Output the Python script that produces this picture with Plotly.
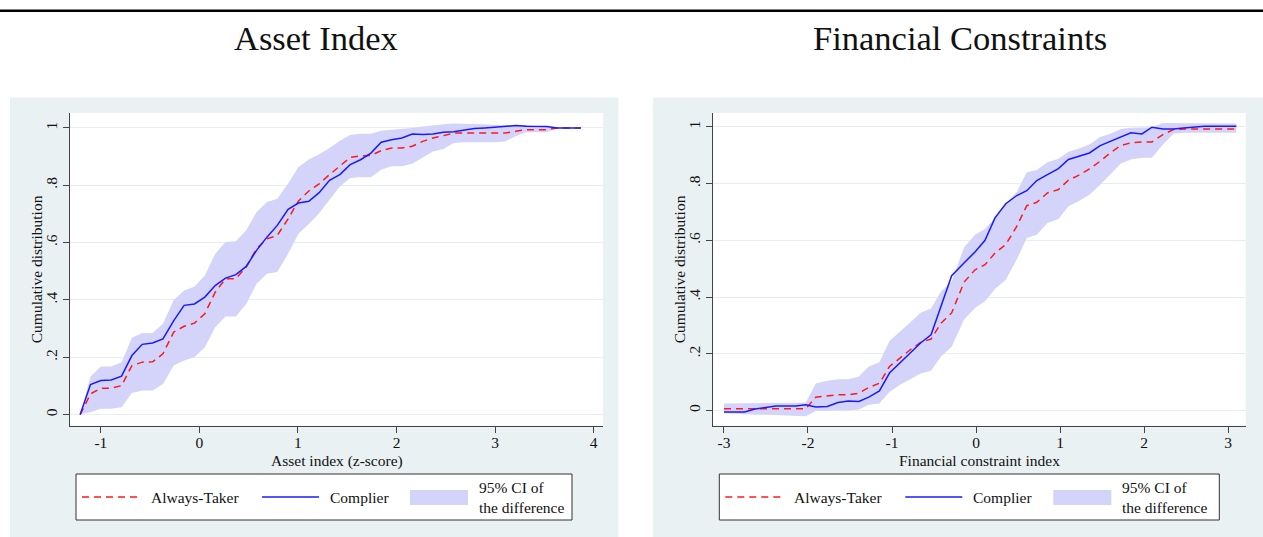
import plotly.graph_objects as go

W, H = 1263, 537

# ---------------- data ----------------
asset_x = [-1.21, -1.105, -1.0, -0.895, -0.79, -0.685, -0.58, -0.475, -0.37, -0.26,
           -0.155, -0.05, 0.055, 0.16, 0.265, 0.37, 0.475, 0.58, 0.685, 0.79,
           0.9, 1.005, 1.11, 1.215, 1.32, 1.425, 1.53, 1.635, 1.74, 1.845,
           1.95, 2.055, 2.16, 2.265, 2.37, 2.475, 2.58, 2.685, 2.79, 2.895,
           3.0, 3.105, 3.21, 3.315, 3.42, 3.525, 3.63, 3.735, 3.87]
asset_always = [0, 0.072, 0.092, 0.092, 0.101, 0.171, 0.183, 0.184, 0.212, 0.288,
                0.308, 0.319, 0.352, 0.427, 0.474, 0.474, 0.515, 0.579, 0.613, 0.625,
                0.683, 0.745, 0.78, 0.805, 0.837, 0.868, 0.897, 0.903, 0.904, 0.921,
                0.93, 0.93, 0.936, 0.953, 0.965, 0.973, 0.982, 0.982, 0.982, 0.982,
                0.982, 0.982, 0.988, 0.994, 0.994, 0.994, 1.0, 1.0, 1.0]
asset_complier = [0, 0.105, 0.119, 0.121, 0.134, 0.206, 0.245, 0.250, 0.264, 0.328,
                  0.381, 0.386, 0.41, 0.45, 0.476, 0.488, 0.517, 0.573, 0.619, 0.66,
                  0.716, 0.738, 0.744, 0.774, 0.817, 0.837, 0.872, 0.889, 0.912, 0.95,
                  0.959, 0.965, 0.979, 0.977, 0.979, 0.985, 0.987, 0.992, 0.998, 1.0,
                  1.003, 1.007, 1.008, 1.006, 1.005, 1.005, 1.0, 1.0, 1.0]
asset_ci_lo = [0, 0.008, 0.02, 0.02, 0.026, 0.075, 0.084, 0.084, 0.107, 0.171,
               0.189, 0.2, 0.235, 0.305, 0.342, 0.342, 0.386, 0.456, 0.491, 0.497,
               0.561, 0.631, 0.665, 0.702, 0.749, 0.796, 0.825, 0.828, 0.828, 0.854,
               0.866, 0.866, 0.875, 0.895, 0.918, 0.926, 0.947, 0.95, 0.95, 0.95,
               0.95, 0.953, 0.971, 0.985, 0.985, 0.985, 1.0, 1.0, 1.0]
asset_ci_hi = [0, 0.133, 0.168, 0.168, 0.183, 0.268, 0.285, 0.285, 0.317, 0.4,
               0.433, 0.447, 0.485, 0.561, 0.602, 0.605, 0.643, 0.707, 0.742, 0.753,
               0.806, 0.864, 0.89, 0.908, 0.93, 0.955, 0.975, 0.98, 0.98, 0.99,
               0.994, 0.996, 1.0, 1.005, 1.01, 1.013, 1.015, 1.015, 1.013, 1.013,
               1.01, 1.01, 1.012, 1.01, 1.007, 1.005, 1.0, 1.0, 1.0]

fin_x = [-3.0, -2.88, -2.755, -2.63, -2.5, -2.38, -2.26, -2.144, -2.026, -1.907,
         -1.77, -1.643, -1.52, -1.394, -1.276, -1.15, -1.03, -0.91, -0.783, -0.66,
         -0.535, -0.416, -0.29, -0.143, -0.012, 0.107, 0.226, 0.354, 0.485, 0.604,
         0.723, 0.85, 0.981, 1.1, 1.22, 1.35, 1.478, 1.597, 1.724, 1.843,
         1.975, 2.094, 2.225, 2.352, 2.471, 2.59, 2.718, 2.837, 2.96, 3.099]
fin_always = [0.006, 0.006, 0.006, 0.006, 0.006, 0.006, 0.006, 0.006, 0.006, 0.047,
              0.052, 0.055, 0.055, 0.061, 0.081, 0.096, 0.155, 0.185, 0.214, 0.24,
              0.252, 0.308, 0.344, 0.452, 0.496, 0.514, 0.555, 0.585, 0.649, 0.722,
              0.734, 0.767, 0.779, 0.812, 0.829, 0.852, 0.879, 0.908, 0.934, 0.944,
              0.947, 0.947, 0.973, 0.991, 0.993, 0.993, 0.993, 0.993, 0.993, 0.993]
fin_complier = [-0.005, -0.005, -0.005, 0.005, 0.012, 0.016, 0.016, 0.016, 0.02, 0.012,
                0.014, 0.028, 0.033, 0.032, 0.047, 0.069, 0.132, 0.167, 0.202, 0.238,
                0.267, 0.37, 0.475, 0.52, 0.559, 0.6, 0.679, 0.729, 0.758, 0.775,
                0.811, 0.832, 0.853, 0.885, 0.896, 0.908, 0.934, 0.949, 0.964, 0.979,
                0.975, 0.999, 0.993, 0.993, 0.996, 0.999, 1.002, 1.002, 1.002, 1.002]
fin_ci_lo = [-0.01, -0.012, -0.013, -0.015, -0.015, -0.016, -0.017, -0.018, -0.02, -0.002,
             0.0, 0.0, 0.0, 0.003, 0.02, 0.025, 0.065, 0.09, 0.11, 0.13,
             0.14, 0.19, 0.225, 0.32, 0.361, 0.385, 0.428, 0.461, 0.532, 0.608,
             0.62, 0.661, 0.675, 0.72, 0.738, 0.761, 0.796, 0.832, 0.871, 0.885,
             0.891, 0.891, 0.938, 0.976, 0.979, 0.979, 0.979, 0.979, 0.979, 0.979]
fin_ci_hi = [0.025, 0.025, 0.025, 0.025, 0.025, 0.025, 0.026, 0.027, 0.028, 0.095,
             0.105, 0.11, 0.11, 0.12, 0.155, 0.17, 0.245, 0.275, 0.31, 0.345,
             0.36, 0.42, 0.455, 0.575, 0.62, 0.64, 0.68, 0.73, 0.77, 0.84,
             0.848, 0.875, 0.888, 0.912, 0.923, 0.938, 0.964, 0.976, 0.993, 0.997,
             0.999, 0.999, 1.014, 1.014, 1.012, 1.012, 1.012, 1.012, 1.012, 1.012]

asset_xticks = [-1, 0, 1, 2, 3, 4]
fin_xticks = [-3, -2, -1, 0, 1, 2, 3]
y_ticks = [0, 0.2, 0.4, 0.6, 0.8, 1]
y_ticklabels = ["0", ".2", ".4", ".6", ".8", "1"]

panel_titles = ["Asset Index", "Financial Constraints"]
x_titles = ["Asset index (z-score)", "Financial constraint index"]
y_title = "Cumulative distribution"
legend_labels = ["Always-Taker", "Complier", "95% CI of<br>the difference"]

# ---------------- styling ----------------
FONT = "Liberation Serif"
RED = "#ff1a1a"
BLUE = "#1a1aff"
BAND = "#d4d4fb"
PANEL = "#eaf1f3"
GRID = "#e6eef0"
AXIS = "#444444"
TXT = "#111111"


def fx(p):
    return p / W


def fy(p):
    return 1 - p / H


PLOT_TOP, PLOT_BOT = 113, 425.5
panels = [
    dict(x=asset_x, at=asset_always, co=asset_complier, lo=asset_ci_lo, hi=asset_ci_hi,
         xt=asset_xticks, xr=[-1.313, 4.095], yr=[-0.038, 1.052],
         plot=(70, 603), bg=(10, 618.5), legw=496, ytitle_x=36),
    dict(x=fin_x, at=fin_always, co=fin_complier, lo=fin_ci_lo, hi=fin_ci_hi,
         xt=fin_xticks, xr=[-3.127, 3.21], yr=[-0.053, 1.049],
         plot=(713.3, 1245.7), bg=(653, 1263), legw=500, ytitle_x=679),
]

fig = go.Figure()
shapes = []
annotations = []

# top rule
shapes.append(dict(type="line", xref="paper", yref="paper", x0=0, x1=1,
                   y0=fy(10.8), y1=fy(10.8), line=dict(color="black", width=2.6)))

for i, p in enumerate(panels):
    xa = "x" if i == 0 else "x2"
    ya = "y" if i == 0 else "y2"
    fig.add_trace(go.Scatter(x=p["x"], y=p["lo"], mode="lines", line=dict(width=0, color=BAND),
                             xaxis=xa, yaxis=ya, showlegend=False, hoverinfo="skip"))
    fig.add_trace(go.Scatter(x=p["x"], y=p["hi"], mode="lines", line=dict(width=0, color=BAND),
                             fill="tonexty", fillcolor=BAND, xaxis=xa, yaxis=ya,
                             name="95% CI of the difference", showlegend=False))
    fig.add_trace(go.Scatter(x=p["x"], y=p["at"], mode="lines",
                             line=dict(color=RED, width=1.5, dash="7px,5px"),
                             xaxis=xa, yaxis=ya, name="Always-Taker", showlegend=False))
    fig.add_trace(go.Scatter(x=p["x"], y=p["co"], mode="lines",
                             line=dict(color=BLUE, width=1.5),
                             xaxis=xa, yaxis=ya, name="Complier", showlegend=False))

    L, R = p["plot"]
    # grey graph region and white plot region
    shapes.append(dict(type="rect", xref="paper", yref="paper", layer="below",
                       x0=fx(p["bg"][0]), x1=fx(p["bg"][1]), y0=0, y1=fy(97.5),
                       fillcolor=PANEL, line=dict(width=0)))
    shapes.append(dict(type="rect", xref="paper", yref="paper", layer="below",
                       x0=fx(L), x1=fx(R), y0=fy(PLOT_BOT), y1=fy(PLOT_TOP),
                       fillcolor="white", line=dict(width=0)))

    # titles
    cx = (L + R) / 2
    annotations.append(dict(text=panel_titles[i], xref="paper", yref="paper",
                            x=fx((p["bg"][0] + p["bg"][1]) / 2 + 2), y=fy(38),
                            xanchor="center", yanchor="middle", showarrow=False,
                            font=dict(family=FONT, size=34.5, color=TXT)))
    annotations.append(dict(text=x_titles[i], xref="paper", yref="paper",
                            x=fx(cx), y=fy(460.5), xanchor="center", yanchor="middle",
                            showarrow=False, font=dict(family=FONT, size=15.5, color=TXT)))
    annotations.append(dict(text=y_title, xref="paper", yref="paper",
                            x=fx(p["ytitle_x"]), y=fy((PLOT_TOP + PLOT_BOT) / 2),
                            xanchor="center", yanchor="middle", textangle=-90,
                            showarrow=False, font=dict(family=FONT, size=15.5, color=TXT)))

    # legend box
    lx0 = L + 6
    lx1 = lx0 + p["legw"]
    ly0, ly1 = 474, 520
    ymid = 497
    shapes.append(dict(type="rect", xref="paper", yref="paper",
                       x0=fx(lx0), x1=fx(lx1), y0=fy(ly1), y1=fy(ly0),
                       fillcolor="white", line=dict(color="#333333", width=1)))
    shapes.append(dict(type="line", xref="paper", yref="paper",
                       x0=fx(lx0 + 6), x1=fx(lx0 + 63), y0=fy(ymid), y1=fy(ymid),
                       line=dict(color=RED, width=1.5, dash="7px,5px")))
    shapes.append(dict(type="line", xref="paper", yref="paper",
                       x0=fx(lx0 + 186), x1=fx(lx0 + 243), y0=fy(ymid), y1=fy(ymid),
                       line=dict(color=BLUE, width=1.5)))
    shapes.append(dict(type="rect", xref="paper", yref="paper",
                       x0=fx(lx0 + 334), x1=fx(lx0 + 392), y0=fy(505), y1=fy(490),
                       fillcolor=BAND, line=dict(width=0)))
    for txt, off in zip(legend_labels, [73, 252, 401]):
        annotations.append(dict(text=txt, xref="paper", yref="paper",
                                x=fx(lx0 + off), y=fy(ymid), xanchor="left", yanchor="middle",
                                align="left", showarrow=False,
                                font=dict(family=FONT, size=15.5, color=TXT)))

axis_common = dict(ticks="outside", ticklen=6, tickwidth=1, tickcolor=AXIS,
                   showline=True, linecolor=AXIS, linewidth=1, zeroline=False,
                   tickfont=dict(family=FONT, size=15.5, color=TXT), fixedrange=True)

dom_y = [fy(PLOT_BOT), fy(PLOT_TOP)]
layout_axes = {}
for i, p in enumerate(panels):
    sx = "" if i == 0 else "2"
    L, R = p["plot"]
    layout_axes["xaxis" + sx] = dict(domain=[fx(L), fx(R)], range=p["xr"], anchor="y" + sx,
                                     tickvals=p["xt"], ticktext=[str(t) for t in p["xt"]],
                                     showgrid=False, ticklabelstandoff=-3, **axis_common)
    layout_axes["yaxis" + sx] = dict(domain=dom_y, range=p["yr"], anchor="x" + sx,
                                     tickvals=y_ticks, ticktext=y_ticklabels, tickangle=-90,
                                     showgrid=True, gridcolor=GRID, gridwidth=1,
                                     **axis_common)

fig.update_layout(width=W, height=H, margin=dict(l=0, r=0, t=0, b=0),
                  paper_bgcolor="white", plot_bgcolor="rgba(0,0,0,0)",
                  showlegend=False, shapes=shapes, annotations=annotations,
                  font=dict(family=FONT, color=TXT), **layout_axes)

fig.write_html("out.html", config={"displayModeBar": False},
               post_script="document.body.style.margin='0';document.body.style.overflow='hidden';")
